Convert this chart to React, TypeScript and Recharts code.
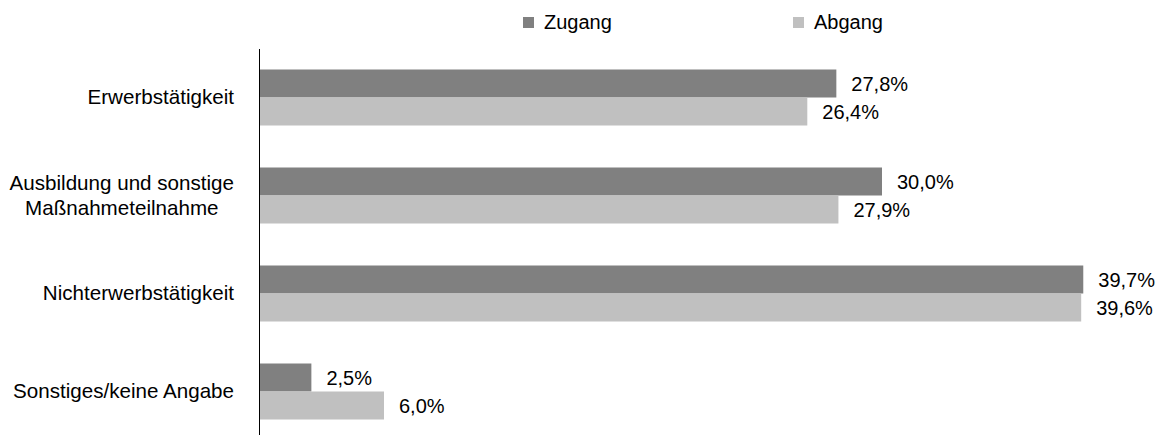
import React from 'react'
import { BarChart, Bar, XAxis, YAxis, LabelList } from 'recharts'

const categories = [
  'Erwerbstätigkeit',
  'Ausbildung und sonstige\nMaßnahmeteilnahme',
  'Nichterwerbstätigkeit',
  'Sonstiges/keine Angabe',
]
const zugang = [27.8, 30.0, 39.7, 2.5]
const abgang = [26.4, 27.9, 39.6, 6.0]
const seriesNames = ['Zugang', 'Abgang']
const seriesColors = ['#808080', '#c0c0c0']

const FONT = '"Liberation Sans", Arial, Helvetica, sans-serif'
const FONT_SIZE = 20
const TICK_FONT_SIZE = 20.6

const data = categories.map((c, i) => ({ name: c, zugang: zugang[i], abgang: abgang[i] }))

const fmt = (v: number) => v.toFixed(1).replace('.', ',') + '%'

let ctx: CanvasRenderingContext2D | null = null
function textWidth(s: string) {
  if (!ctx) ctx = document.createElement('canvas').getContext('2d')
  if (!ctx) return s.length * 10
  ctx.font = `${TICK_FONT_SIZE}px ${FONT}`
  return ctx.measureText(s).width
}

function CategoryTick({ x, y, payload }: any) {
  const lines = String(payload.value).split('\n')
  const lineH = 24.5
  const w = Math.max(...lines.map(textWidth))
  const cx = x - w / 2
  const y0 = y - 1.2 - ((lines.length - 1) * lineH) / 2
  return (
    <g>
      {lines.map((l, i) => (
        <text
          key={i}
          x={lines.length > 1 ? cx : x}
          y={y0 + i * lineH}
          textAnchor={lines.length > 1 ? 'middle' : 'end'}
          dominantBaseline="central"
          fontFamily={FONT}
          fontSize={TICK_FONT_SIZE}
          fill="#000"
        >
          {l}
        </text>
      ))}
    </g>
  )
}

function ValueLabel({ x, y, width, height, value }: any) {
  return (
    <text
      x={x + width + 15}
      y={y + height / 2}
      dominantBaseline="central"
      fontFamily={FONT}
      fontSize={FONT_SIZE}
      fill="#000"
    >
      {fmt(value)}
    </text>
  )
}

function LegendOverlay() {
  const items = [
    { x: 523, name: seriesNames[0], color: seriesColors[0] },
    { x: 793, name: seriesNames[1], color: seriesColors[1] },
  ]
  return (
    <svg width={1161} height={45} style={{ position: 'absolute', left: 0, top: 0 }}>
      {items.map((it) => (
        <g key={it.name}>
          <rect x={it.x} y={17} width={11} height={11} fill={it.color} />
          <text x={it.x + 21} y={22.4} dominantBaseline="central" fontFamily={FONT} fontSize={FONT_SIZE} fill="#000">
            {it.name}
          </text>
        </g>
      ))}
    </svg>
  )
}

export default function App() {
  return (
    <div style={{ position: 'fixed', left: 0, top: 0, width: 1161, height: 435, overflow: 'hidden', background: '#fff' }}>
      <BarChart
        width={1161}
        height={446}
        layout="vertical"
        data={data}
        margin={{ top: 49, right: 71.5, bottom: 5, left: 0 }}
        barCategoryGap="21%"
        barGap={0}
        style={{ overflow: 'visible' }}
      >
        <XAxis type="number" domain={[0, 40]} hide />
        <YAxis
          type="category"
          dataKey="name"
          width={259.5}
          tickSize={0}
          tickMargin={25.5}
          tickLine={false}
          axisLine={{ stroke: '#000', strokeWidth: 1 }}
          tick={<CategoryTick />}
          interval={0}
        />
        <Bar dataKey="zugang" fill={seriesColors[0]} isAnimationActive={false}>
          <LabelList dataKey="zugang" content={<ValueLabel />} />
        </Bar>
        <Bar dataKey="abgang" fill={seriesColors[1]} isAnimationActive={false}>
          <LabelList dataKey="abgang" content={<ValueLabel />} />
        </Bar>
      </BarChart>
      <LegendOverlay />
    </div>
  )
}
